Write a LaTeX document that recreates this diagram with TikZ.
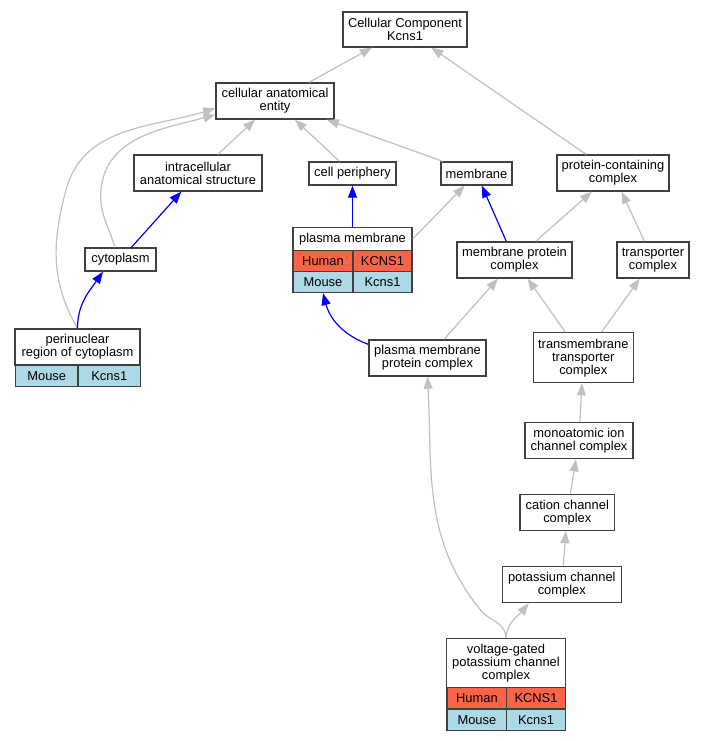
\documentclass[tikz,border=0pt]{standalone}
\usepackage{fontspec}
\setmainfont{Liberation Sans}
\usetikzlibrary{arrows.meta}
\definecolor{edgegray}{RGB}{192,192,192}
\definecolor{humanred}{RGB}{255,99,71}
\definecolor{mouseblue}{RGB}{173,216,230}
\newcommand\termfont{\fontsize{12.9}{13}\selectfont}
\tikzset{
	term/.style={draw=black!75, line width=1.3pt, fill=white, align=center, inner sep=0pt, font=\termfont},
	human/.style={term, fill=humanred},
	mouse/.style={term, fill=mouseblue},
	isa/.style={draw=edgegray, line width=1.2pt, -{Triangle[length=12pt,width=9pt]}},
	partof/.style={draw=blue, line width=1.2pt, -{Triangle[length=12pt,width=9pt]}}
}

\begin{document}
\begin{tikzpicture}[x=1pt, y=1pt]
			%%%%% START %%%%%
			
			\path[use as bounding box, fill=white] (0, 0) rectangle (705, -741);
			
			\node[term, minimum width=124pt, minimum height=35pt] (root) at (405, -29.5) {Cellular Component\\Kcns1};
			\node[term, minimum width=118pt, minimum height=36pt] (cae) at (275, -101) {cellular anatomical\\entity};
			
			\node[term, minimum width=128pt, minimum height=36pt] (ias) at (198, -173) {intracellular\\anatomical structure};
			\node[term, minimum width=87pt, minimum height=23pt] (cp) at (352.5, -173.5) {cell periphery};
			\node[term, minimum width=71pt, minimum height=23pt] (mem) at (476.5, -173.5) {membrane};
			\node[term, minimum width=112pt, minimum height=36pt] (pcc) at (613, -173) {protein-containing\\complex};
			
			\node[term, minimum width=71pt, minimum height=23pt] (cyto) at (120.5, -259.5) {cytoplasm};
			\node[term, minimum width=115pt, minimum height=36pt] (mpc) at (514.5, -260) {membrane protein\\complex};
			\node[term, minimum width=72pt, minimum height=36pt] (tc) at (653, -260) {transporter\\complex};
			
			% plasma membrane table
			\node[term, minimum width=119pt, minimum height=22.5pt] (pm) at (352.5, -239) {plasma membrane};
			\node[human, minimum width=60pt, minimum height=21pt] (pmHs) at (323, -261) {Human};
			\node[human, minimum width=59pt, minimum height=21pt] (pmHsGene) at (382.5, -261) {KCNS1};
			\node[mouse, minimum width=60pt, minimum height=21pt] (pmMm) at (323, -282) {Mouse};
			\node[mouse, minimum width=59pt, minimum height=21pt] (pmMmGene) at (382.5, -282) {Kcns1};
			
			% perinuclear table
			\node[term, minimum width=125pt, minimum height=36pt] (pnc) at (77.5, -347) {perinuclear\\region of cytoplasm};
			\node[mouse, minimum width=62.5pt, minimum height=21.5pt] (pncMm) at (46.75, -375.75) {Mouse};
			\node[mouse, minimum width=62.5pt, minimum height=21.5pt] (pncMmGene) at (109.25, -375.75) {Kcns1};
			
			\node[term, minimum width=117pt, minimum height=36pt] (pmpc) at (427.5, -358) {plasma membrane\\protein complex};
			\node[term, minimum width=100pt, minimum height=50pt] (tmt) at (583.3, -357.7) {transmembrane\\transporter\\complex};
			\node[term, minimum width=108pt, minimum height=36pt] (moc) at (579, -440.7) {monoatomic ion\\channel complex};
			\node[term, minimum width=94.5pt, minimum height=36pt] (ccc) at (567.3, -512.5) {cation channel\\complex};
			\node[term, minimum width=119pt, minimum height=36pt] (kcc) at (561.8, -584.7) {potassium channel\\complex};
			
			% voltage-gated table
			\node[term, minimum width=118.6pt, minimum height=49pt] (vg) at (506, -662.8) {voltage-gated\\potassium channel\\complex};
			\node[human, minimum width=60pt, minimum height=21.7pt] (vgHs) at (476.9, -698.2) {Human};
			\node[human, minimum width=58.6pt, minimum height=21.7pt] (vgHsGene) at (536, -698.2) {KCNS1};
			\node[mouse, minimum width=60pt, minimum height=21.7pt] (vgMm) at (476.9, -719.9) {Mouse};
			\node[mouse, minimum width=58.6pt, minimum height=21.7pt] (vgMmGene) at (536, -719.9) {Kcns1};
			
			% gray edges
			\draw[isa] (cae) -- (root);
			\draw[isa] (pcc) -- (root);
			\draw[isa] (ias) -- (cae);
			\draw[isa] (cp) -- (cae);
			\draw[isa] (mem) -- (cae);
			\draw[isa] ([xshift=-5.5pt]cyto.north) to[out=107, in=-95] (101, -190) to[out=85, in=195] (cae.193.5);
			\draw[isa] (pnc.north) to[out=120, in=-105] (66, -190) to[out=75, in=197] (cae.187);
			\draw[isa] (pm.east) -- (mem);
			\draw[isa] (mpc) -- (pcc);
			\draw[isa] (tc) -- (pcc);
			\draw[isa] (pmpc) -- (mpc);
			\draw[isa] (tmt) -- (mpc);
			\draw[isa] (tmt) -- (tc);
			\draw[isa] (moc) -- (tmt);
			\draw[isa] (ccc) -- (moc);
			\draw[isa] (kcc) -- (ccc);
			\draw[isa] (vg.north) to[out=92, in=-40] (483, -613) to[out=130, in=-87] (pmpc.south);
			\draw[isa] (vg.north) to[out=85, in=-130] ([xshift=-33pt]kcc.south);
			
			% blue edges
			\draw[partof] (cyto) -- (ias);
			\draw[partof] (pnc.north) to[out=90, in=-125] ([xshift=-17.5pt]cyto.south);
			\draw[partof] (pm.north) -- (cp.south);
			\draw[partof] (mpc) -- (mem);
			\draw[partof] (pmpc.167) to[out=160, in=-75] (pmMm.south);
			
			%%%%% END %%%%%
\end{tikzpicture}
\end{document}
